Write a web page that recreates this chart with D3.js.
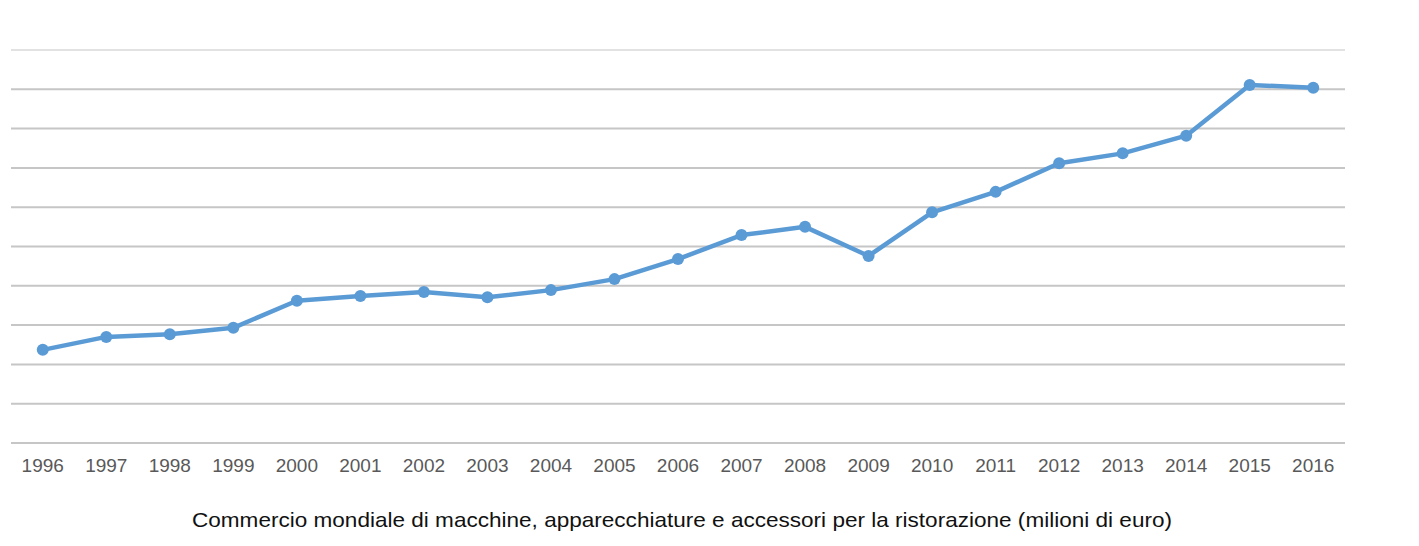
<!DOCTYPE html>
<html><head><meta charset="utf-8">
<script src="https://cdn.jsdelivr.net/npm/d3@7"></script>
<style>body{margin:0;background:#fff}svg{display:block}</style>
</head><body>
<svg id="chart" width="1419" height="546"></svg>
<script>
const years = ["1996","1997","1998","1999","2000","2001","2002","2003","2004","2005","2006","2007","2008","2009","2010","2011","2012","2013","2014","2015","2016"];
const values = [2.37,2.70,2.77,2.93,3.62,3.74,3.84,3.71,3.89,4.17,4.68,5.29,5.50,4.76,5.87,6.39,7.12,7.37,7.82,9.11,9.04];
const gridTicks = [0,1,2,3,4,5,6,7,8,9,10];
const title = "Commercio mondiale di macchine, apparecchiature e accessori per la ristorazione (milioni di euro)";

(function () {
const svg = d3.select("#chart");
const mLeft = 11, mRight = 1345, mTop = 50, mBottom = 443;
const x = d3.scaleBand().domain(years).range([mLeft, mRight]);
const y = d3.scaleLinear().domain([0, 10]).range([mBottom, mTop]);

svg.append("g").selectAll("line").data(gridTicks).join("line")
  .attr("x1", mLeft).attr("x2", mRight)
  .attr("y1", d => y(d)).attr("y2", d => y(d))
  .attr("stroke", d => d === 10 ? "#e2e2e2" : "#c6c6c6")
  .attr("stroke-width", 2);

const xAxis = svg.append("g").attr("transform", `translate(0,${mBottom})`)
  .call(d3.axisBottom(x).tickSize(0).tickPadding(16));
xAxis.select(".domain").remove();
xAxis.selectAll("text").attr("font-family", "Liberation Sans, Arial, sans-serif")
  .attr("font-size", 19).attr("fill", "#595959");

const cx = d => x(d) + x.bandwidth() / 2;
const line = d3.line().x((d, i) => cx(years[i])).y(d => y(d));
svg.append("path").datum(values).attr("d", line)
  .attr("fill", "none").attr("stroke", "#5b9bd5").attr("stroke-width", 4.5)
  .attr("stroke-linejoin", "round");
svg.append("g").selectAll("circle").data(values).join("circle")
  .attr("cx", (d, i) => cx(years[i])).attr("cy", d => y(d)).attr("r", 6)
  .attr("fill", "#5b9bd5");

svg.append("text").attr("x", 682).attr("y", 527).attr("text-anchor", "middle")
  .attr("font-family", "Liberation Sans Narrow, Liberation Sans, sans-serif")
  .attr("font-size", 21).attr("fill", "#111")
  .attr("textLength", 980).attr("lengthAdjust", "spacingAndGlyphs")
  .text(title);
})();
</script>
</body></html>
